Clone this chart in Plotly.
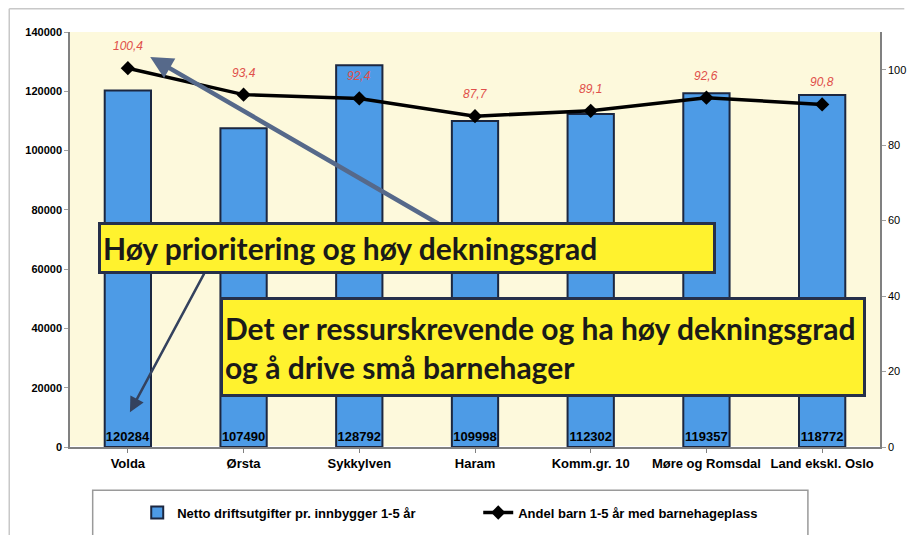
import plotly.graph_objects as go

kommuner = ['Volda', 'Ørsta', 'Sykkylven', 'Haram', 'Komm.gr. 10',
            'Møre og Romsdal', 'Land ekskl. Oslo']
utgifter = [120284, 107490, 128792, 109998, 112302, 119357, 118772]
andel = [100.4, 93.4, 92.4, 87.7, 89.1, 92.6, 90.8]
andel_txt = ['100,4', '93,4', '92,4', '87,7', '89,1', '92,6', '90,8']

fig = go.Figure()

fig.add_trace(go.Bar(
    x=kommuner, y=utgifter,
    name='<b>Netto driftsutgifter pr. innbygger 1-5 år</b>',
    marker=dict(color='#4d9be6', line=dict(color='#1c2740', width=2)),
    text=[str(v) for v in utgifter],
    textposition='inside', insidetextanchor='start', textangle=0,
    constraintext='none',
    textfont=dict(family='Liberation Sans', size=13, color='black'),
    texttemplate='<b>%{text}</b>',
))

fig.add_trace(go.Scatter(
    x=kommuner, y=andel, yaxis='y2',
    name='<b>Andel barn 1-5 år med barnehageplass</b>',
    mode='lines+markers',
    line=dict(color='black', width=3.5),
    marker=dict(symbol='diamond', size=11, color='black'),
))

# røde etiketter over linja
for k, v, t in zip(kommuner, andel, andel_txt):
    fig.add_annotation(x=k, y=v, yref='y2', text='<i>' + t + '</i>',
                       showarrow=False, yshift=22,
                       font=dict(family='Liberation Sans', size=12, color='#e0504a'))

# piler
fig.add_annotation(xref='paper', yref='paper', x=0.099, y=0.94,
                   ax=290, ay=168, showarrow=True, arrowhead=2,
                   arrowsize=1, arrowwidth=4.5, arrowcolor='#56698a', text='')
fig.add_annotation(xref='paper', yref='paper', x=0.074, y=0.084,
                   ax=75, ay=-140, showarrow=True, arrowhead=2,
                   arrowsize=1.2, arrowwidth=2.5, arrowcolor='#34425e', text='')

# gule tekstbokser
fig.add_annotation(xref='paper', yref='paper', x=0.035, y=0.542,
                   xanchor='left', yanchor='top', showarrow=False,
                   text='<b>Høy prioritering og høy dekningsgrad</b>',
                   align='left', width=608, height=42,
                   bgcolor='#fff22e', bordercolor='#26304a', borderwidth=3, borderpad=2,
                   font=dict(family='Lato', size=30, color='#1a1a1a'))
fig.add_annotation(xref='paper', yref='paper', x=0.185, y=0.361,
                   xanchor='left', yanchor='top', showarrow=False,
                   text='<b>Det er ressurskrevende og ha høy dekningsgrad<br>og å drive små barnehager</b>',
                   align='left', width=636, height=90,
                   bgcolor='#fff22e', bordercolor='#26304a', borderwidth=3, borderpad=2,
                   font=dict(family='Lato', size=30, color='#1a1a1a'))

# legendeboks og ytre ramme
fig.add_shape(type='rect', xref='paper', yref='paper',
              x0=0.028, x1=0.911, y0=-0.235, y1=-0.104,
              line=dict(color='#9a9a9a', width=1.5), fillcolor='white', layer='below')
fig.add_shape(type='line', xref='paper', yref='paper',
              x0=-0.075, x1=1.03, y0=1.056, y1=1.056,
              line=dict(color='#c8c8c8', width=1.5))
fig.add_shape(type='line', xref='paper', yref='paper',
              x0=-0.075, x1=-0.075, y0=1.056, y1=-0.22,
              line=dict(color='#c8c8c8', width=1.5))

fig.update_layout(
    width=924, height=535,
    margin=dict(l=62, r=52, t=24, b=96),
    paper_bgcolor='white', plot_bgcolor='#fdf9dc',
    bargap=0.6,
    font=dict(family='Liberation Sans', size=11, color='black'),
    showlegend=True,
    legend=dict(orientation='h', x=0.083, y=-0.158, xanchor='left', yanchor='middle',
                entrywidth=296, bgcolor='rgba(0,0,0,0)', itemwidth=30,
                font=dict(family='Liberation Sans', size=13, color='black')),
    xaxis=dict(showline=True, linecolor='#808080', linewidth=1.5,
               ticks='outside', ticklen=4, tickcolor='#808080',
               tickfont=dict(family='Liberation Sans', size=13),
               tickprefix='<b>', ticksuffix='</b>'),
    yaxis=dict(range=[0, 140000], dtick=20000, tickformat='d', showgrid=False,
               showline=True, linecolor='#808080', linewidth=1.5,
               ticks='outside', ticklen=4, tickcolor='#a0a0a0',
               tickprefix='<b>', ticksuffix='</b>',
               tickfont=dict(family='Liberation Sans', size=11)),
    yaxis2=dict(range=[0, 110], tickvals=[0, 20, 40, 60, 80, 100], overlaying='y',
                side='right', showgrid=False, showline=True, linecolor='#808080',
                linewidth=1.5, ticks='outside', ticklen=4, tickcolor='#a0a0a0',
                tickprefix='<b>', ticksuffix='</b>',
                tickfont=dict(family='Liberation Sans', size=11)),
)

fig.write_html('out.html')
